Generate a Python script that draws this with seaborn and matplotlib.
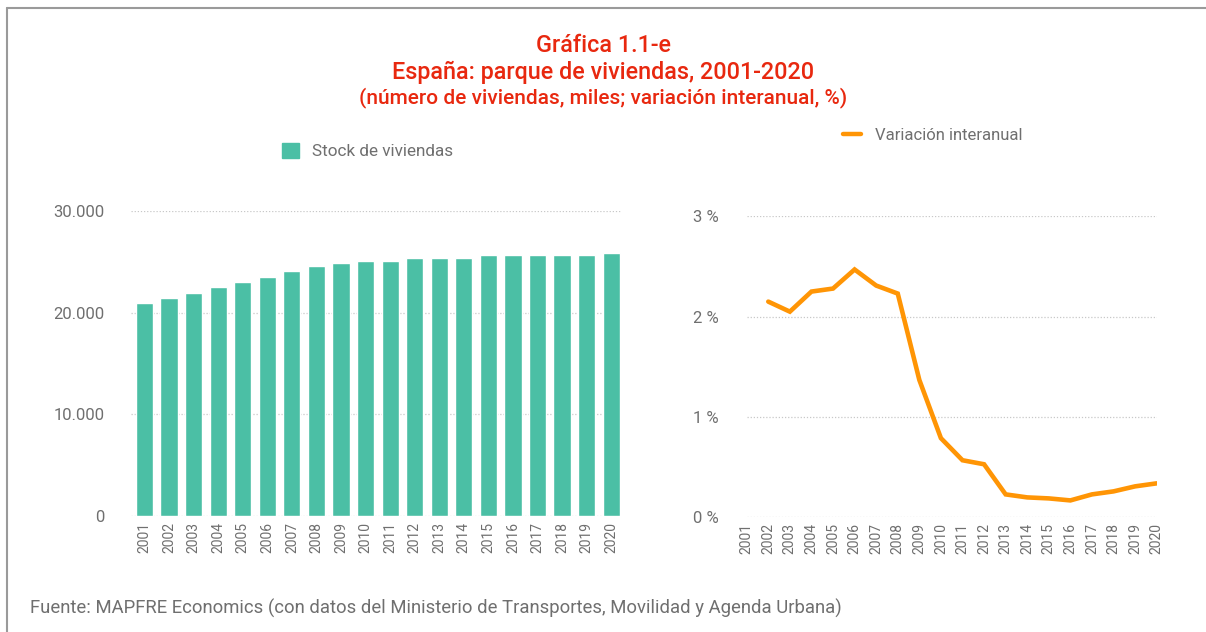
import numpy as np
import pandas as pd
import matplotlib
matplotlib.use("Agg")
import matplotlib.pyplot as plt
import seaborn as sns
from matplotlib.patches import Patch
from matplotlib.lines import Line2D
from matplotlib.ticker import FuncFormatter

# data
years = list(range(2001, 2021))
stock = [20950, 21440, 21930, 22520, 23000, 23500, 24090, 24580, 24880, 25070,
         25070, 25370, 25370, 25370, 25660, 25660, 25660, 25660, 25660, 25860]
years_var = list(range(2002, 2021))
variacion = [2.15, 2.05, 2.25, 2.28, 2.47, 2.31, 2.23, 1.37, 0.79, 0.57,
             0.53, 0.23, 0.20, 0.19, 0.17, 0.23, 0.26, 0.31, 0.34]

teal = "#4BBFA5"
orange = "#FF9505"
red = "#E8280F"
grey_txt = "#6f6f6f"

sns.set_style("white")
plt.rcParams['font.family'] = ['Roboto', 'DejaVu Sans']

fig = plt.figure(figsize=(12.06, 6.32), dpi=100)

# left panel: housing stock bars
ax1 = fig.add_axes([131/1206, 0.1835, 490/1206, 0.4826])
df_stock = pd.DataFrame({"year": [str(y) for y in years], "stock": stock})
sns.barplot(data=df_stock, x="year", y="stock", color=teal, width=0.7,
            saturation=1, ax=ax1, zorder=3)
ax1.set_xlim(-0.55, 19.4)
ax1.set_ylim(0, 30000)
ax1.set_yticks([0, 10000, 20000, 30000])
ax1.yaxis.set_major_formatter(FuncFormatter(lambda v, p: f"{int(v):,}".replace(",", ".")))
ax1.set_xlabel("")
ax1.set_ylabel("")
ax1.tick_params(axis="x", rotation=90, labelsize=10, colors=grey_txt, length=0, pad=4)
ax1.tick_params(axis="y", labelsize=12, colors=grey_txt, length=0, pad=19)
ax1.grid(axis="y", color="#c8c8c8", linestyle=(0, (1, 1.5)), linewidth=0.9, zorder=0)
sns.despine(ax=ax1, left=True, bottom=True)

ax1.legend(handles=[Patch(color=teal, label="Stock de viviendas")],
           loc="center left", bbox_to_anchor=(0.2265, 0.761), bbox_transform=fig.transFigure,
           frameon=False, fontsize=12.3, handlelength=1.0, handleheight=1.0,
           handletextpad=0.75, borderpad=0, labelcolor=grey_txt)

# right panel: year-on-year change line
ax2 = fig.add_axes([746.7/1206, 0.1812, 410/1206, 0.4766])
sns.lineplot(x=years_var, y=variacion, color=orange, linewidth=3.3, ax=ax2,
             solid_joinstyle="miter", zorder=3)
ax2.set_xlim(2001, 2020)
ax2.set_ylim(0, 3)
ax2.set_xticks(years)
ax2.set_xticklabels([str(y) for y in years])
ax2.set_yticks([0, 1, 2, 3])
ax2.yaxis.set_major_formatter(FuncFormatter(lambda v, p: f"{int(v)} %"))
ax2.tick_params(axis="x", rotation=90, labelsize=10, colors=grey_txt, length=0, pad=4)
ax2.tick_params(axis="y", labelsize=12, colors=grey_txt, length=0, pad=20)
ax2.grid(axis="y", color="#c8c8c8", linestyle=(0, (1, 1.5)), linewidth=0.9, zorder=0)
sns.despine(ax=ax2, left=True, bottom=True)

ax2.legend(handles=[Line2D([], [], color=orange, linewidth=3.2, label="Variación interanual")],
           loc="center left", bbox_to_anchor=(0.692, 0.786), bbox_transform=fig.transFigure,
           frameon=False, fontsize=12, handlelength=1.1, handletextpad=0.8,
           borderpad=0, labelcolor=grey_txt)

# titles
fig.text(0.5, 1 - 45/632, "Gráfica 1.1-e", ha="center", va="center",
         color=red, fontsize=16.8, fontweight="medium")
fig.text(0.5, 1 - 72/632, "España: parque de viviendas, 2001-2020", ha="center", va="center",
         color=red, fontsize=16.8, fontweight="medium")
fig.text(0.5, 1 - 98/632, "(número de viviendas, miles; variación interanual, %)", ha="center",
         va="center", color=red, fontsize=15, fontweight="medium")

fig.text(30/1206, 1 - 608/632, "Fuente: MAPFRE Economics (con datos del Ministerio de Transportes, "
         "Movilidad y Agenda Urbana)", ha="left", va="center", color=grey_txt, fontsize=13.3)

# frame lines top and left
fig.add_artist(Line2D([7/1206, 1], [1 - 8/632, 1 - 8/632], color="#9a9a9a", linewidth=1.5))
fig.add_artist(Line2D([7/1206, 7/1206], [0, 1 - 8/632], color="#9a9a9a", linewidth=1.5))

fig.savefig("out.png", dpi=100)
